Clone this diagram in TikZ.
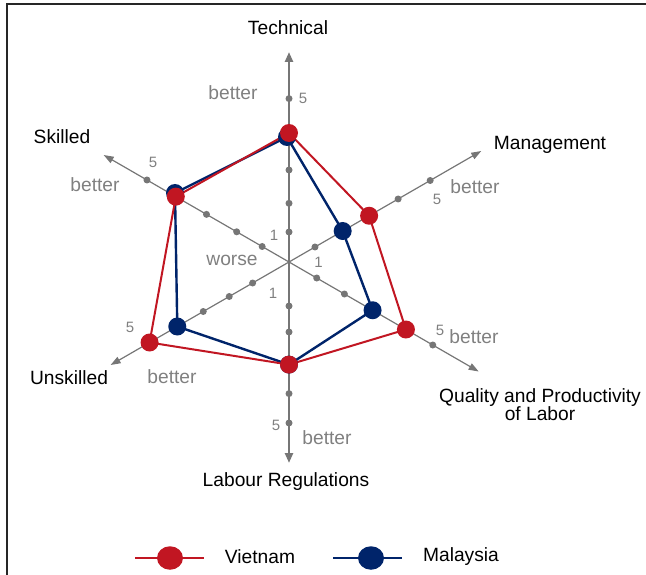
\documentclass[tikz,border=0pt]{standalone}
\usepackage{fontspec}
\setmainfont{Liberation Sans}
\usetikzlibrary{arrows.meta,calc,shapes.geometric}
\definecolor{vred}{RGB}{193,22,34}
\definecolor{mnavy}{RGB}{0,36,106}
\definecolor{axgray}{RGB}{118,118,118}
\definecolor{txtgray}{RGB}{128,128,128}
\tikzset{
  lbl/.style={font=\fontsize{19.2}{21}\selectfont, text=black, inner sep=0pt, align=center},
  glbl/.style={font=\fontsize{19.2}{21}\selectfont, text=txtgray, inner sep=0pt},
  tick/.style={font=\fontsize{15}{16}\selectfont, text=txtgray, inner sep=0pt},
  axdot/.style={circle, fill=axgray, inner sep=0pt, minimum size=7pt},
  diagaxis/.style={draw=axgray, line width=1.2pt},
  vertaxis/.style={draw=axgray, line width=2.4pt},
  axtip/.style={{Triangle[length=10pt,width=7pt]}-{Triangle[length=10pt,width=7pt]}},
  vmark/.style={circle, fill=vred, inner sep=0pt, minimum size=18pt},
  mmark/.style={circle, fill=mnavy, inner sep=0pt, minimum size=18pt},
  vpoly/.style={draw=vred, line width=2pt, line join=round},
  mpoly/.style={draw=mnavy, line width=2.4pt, line join=round},
  legmarkv/.style={ellipse, fill=vred, inner sep=0pt, minimum width=26pt, minimum height=23.5pt},
  legmarkm/.style={ellipse, fill=mnavy, inner sep=0pt, minimum width=26pt, minimum height=23.5pt},
}
\begin{document}
\begin{tikzpicture}[x=1pt,y=-1pt]
\useasboundingbox (0,0) rectangle (646,575);
% frame
\draw[black!85, line width=1.6pt] (7,575) -- (7,4) -- (646,4);

\coordinate (C) at (289,262);
% axis ends
\coordinate (tTop) at ($(C)+(-90:210)$);
\coordinate (tBot) at ($(C)+(90:201)$);
\coordinate (tSk) at ($(C)+(210:214)$);
\coordinate (tQu) at ($(C)+(30:219)$);
\coordinate (tMa) at ($(C)+(-30:222)$);
\coordinate (tUn) at ($(C)+(150:206)$);

\draw[diagaxis, axtip] (tSk) -- (tQu);
\draw[diagaxis, axtip] (tUn) -- (tMa);
\draw[vertaxis, {Triangle[length=10pt,width=8pt]}-{Triangle[length=10pt,width=8pt]}] (tBot) -- (tTop);

% axis dots
\foreach \r [count=\i] in {30,58.7,92,129,163.4} \node[axdot] (dT\i) at ($(C)+(-90:\r)$) {};
\foreach \r [count=\i] in {44,70,102.6,131.6,161} \node[axdot] (dB\i) at ($(C)+(90:\r)$) {};
\foreach \r [count=\i] in {31,60.4,95.3,130.7,164} \node[axdot] (dS\i) at ($(C)+(210:\r)$) {};
\foreach \r [count=\i] in {30,62,92.5,126,163} \node[axdot] (dM\i) at ($(C)+(-30:\r)$) {};
\foreach \r [count=\i] in {32,64,96.5,135,166} \node[axdot] (dQ\i) at ($(C)+(30:\r)$) {};
\foreach \r [count=\i] in {42,69,99,129,161} \node[axdot] (dU\i) at ($(C)+(150:\r)$) {};

% Malaysia polygon
\coordinate (mT) at (287,137);
\coordinate (mM) at (dM2);
\coordinate (mQ) at (dQ3);
\coordinate (mL) at (dB3);
\coordinate (mU) at (dU4);
\coordinate (mS) at (175,193);
\draw[mpoly] (mT) -- (mM) -- (mQ) -- (mL) -- (mU) -- (mS) -- cycle;

% Vietnam polygon
\coordinate (vT) at (dT4);
\coordinate (vM) at (dM3);
\coordinate (vQ) at (dQ4);
\coordinate (vL) at (dB3);
\coordinate (vU) at (dU5);
\coordinate (vS) at (dS4);
\draw[vpoly] (vT) -- (vM) -- (vQ) -- (vL) -- (vU) -- (vS) -- cycle;

% markers
\foreach \p in {mT,mM,mQ,mL,mU,mS} \node[mmark] (n\p) at (\p) {};
\foreach \p in {vT,vM,vQ,vL,vU,vS} \node[vmark] (n\p) at (\p) {};

% tick labels
\node[tick] (k5T) at (303,98) {5};
\node[tick] (k1T) at (274,235) {1};
\node[tick] (k1R) at (318.5,262) {1};
\node[tick] (k1B) at (273,293) {1};
\node[tick] (k5B) at (276,425) {5};
\node[tick] (k5S) at (153,162) {5};
\node[tick] (k5M) at (437,199) {5};
\node[tick] (k5Q) at (440,330) {5};
\node[tick] (k5U) at (130,327) {5};

% better / worse
\node[glbl] (bT) at (233,93) {better};
\node[glbl] (bS) at (95,185) {better};
\node[glbl] (bM) at (475,187) {better};
\node[glbl] (bQ) at (474,337) {better};
\node[glbl] (bU) at (172,377) {better};
\node[glbl] (bB) at (327,438) {better};
\node[glbl] (wC) at (232,260) {worse};

% axis titles
\node[lbl] (lT) at (288,28) {Technical};
\node[lbl] (lS) at (62,137) {Skilled};
\node[lbl] (lM) at (550,145) {Management};
\node[lbl] (lQ) at (540,404.5) {Quality and Productivity\\[-3.5pt]of Labor};
\node[lbl] (lU) at (69,378) {Unskilled};
\node[lbl] (lB) at (286,482) {Labour Regulations};

% legend
\coordinate (lv1) at (135,558);
\coordinate (lv2) at (204,558);
\draw[vred, line width=2.8pt] (lv1) -- (lv2);
\node[legmarkv] (lvm) at (170,558) {};
\node[lbl] (lvt) at (260,556.5) {Vietnam};
\coordinate (lm1) at (333,558);
\coordinate (lm2) at (402,558);
\draw[mnavy, line width=2.8pt] (lm1) -- (lm2);
\node[legmarkm] (lmm) at (371,558) {};
\node[lbl] (lmt) at (461,556.5) {Malaysia};
\end{tikzpicture}
\end{document}
